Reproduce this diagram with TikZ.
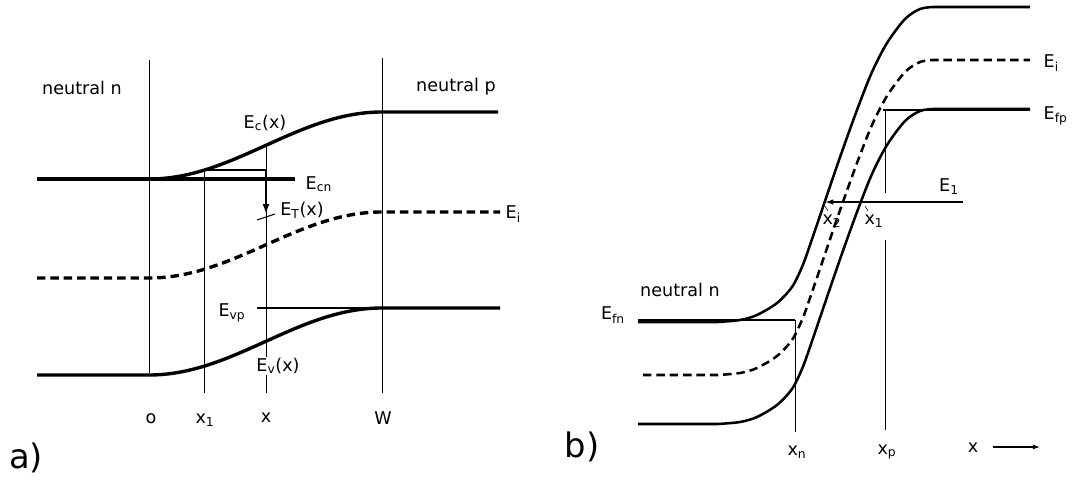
\documentclass[tikz,border=0pt]{standalone}
\usepackage{fontspec}
\setmainfont{DejaVu Sans}
\usepackage{tikz}
\usetikzlibrary{arrows.meta}

\begin{document}
\begin{tikzpicture}[x=0.025cm, y=-0.025cm,
    declare function={sa(\t)=(1-cos(180*\t))/2;},
    banda/.style={line width=2.4pt},
    bandb/.style={line width=1.8pt},
    sottile/.style={line width=0.7pt},
    tratto/.style={dash pattern=on 6pt off 3.5pt},
    lbl/.style={font=\fontsize{12.5}{15}\selectfont, inner sep=1pt},
    tag/.style={font=\fontsize{24}{28}\selectfont, inner sep=0pt}]
    \useasboundingbox (0,0) rectangle (1074,480);

    % ---------------- a) ----------------
    % Linee verticali
    \draw[sottile] (149,60) -- (149,373);
    \draw[sottile] (382,58) -- (382,393);
    \draw[sottile] (204,170) -- (204,393);
    \draw[sottile] (266,145) -- (266,393);

    % Bande E_c, E_i, E_v
    \draw[banda] (37,179) -- (295,179);
    \draw[banda, domain=149:382, samples=60] plot (\x, {179-67*sa((\x-149)/233)}) -- (498,112);
    \draw[banda, tratto] (37,278) -- (149,278)
        -- plot[domain=149:382, samples=60] (\x, {278-66*sa((\x-149)/233)}) -- (500,212);
    \draw[banda] (37,375) -- (149,375)
        -- plot[domain=149:382, samples=60] (\x, {375-67*sa((\x-149)/233)}) -- (500,308);
    \draw[line width=1pt] (257,308) -- (382,308);

    % Transizione verso il livello E_T
    \coordinate (Etop) at (266,170);
    \coordinate (Ebot) at (266,214);
    \draw[line width=1.6pt] (204,170) -- (Etop);
    \draw[line width=1.6pt, -{Latex[length=7pt, width=5pt]}] (Etop) -- (Ebot);
    \draw[sottile] (257,220) -- (275,214);

    % Etichette
    \node[lbl] (neutrna) at (82,88) {neutral n};
    \node[lbl] (neutrpa) at (456,87) {neutral p};
    \node[lbl] (Ecx) at (265,123) {E\textsubscript{c}(x)};
    \node[lbl, anchor=west] (Ecn) at (304,184) {E\textsubscript{cn}};
    \node[lbl] (ETx) at (302,210) {E\textsubscript{T}(x)};
    \node[lbl, anchor=west] (Eia) at (504,214) {E\textsubscript{i}};
    \node[lbl] (Evp) at (232,313) {E\textsubscript{vp}};
    \node[lbl, fill=white] (Evx) at (278,366) {E\textsubscript{v}(x)};
    \node[lbl] (o) at (151,419) {o};
    \node[lbl] (xuno) at (205,420) {x\textsubscript{1}};
    \node[lbl] (xa) at (266,418) {x};
    \node[lbl] (W) at (383,418) {W};
    \node[tag] (taga) at (26,458) {a)};

    % ---------------- b) ----------------
    % Linee verticali x_n, x_p
    \draw[sottile] (795,320) -- (795,432);
    \draw[sottile] (885,110) -- (885,193);
    \draw[sottile] (885,240) -- (885,430);

    % Livelli di Fermi
    \draw[bandb] (638,320) -- (795,320);
    \draw[bandb] (883,110) -- (1030,110);

    % Bande (stessa forma, traslate)
    \foreach \dy in {0,102}
        \draw[bandb, shift={(0,\dy)}] (638,322) -- plot[smooth] coordinates {(718,322) (740,320) (757,315) (777,303) (792,287) (802,267) (810,245) (838,163) (857,110) (872,72) (887,43) (905,19) (920,9) (933,7)} -- (1030,7);
    \draw[bandb, tratto, shift={(0,53)}] (643,322) -- plot[smooth] coordinates {(718,322) (740,320) (757,315) (777,303) (792,287) (802,267) (810,245) (838,163) (857,110) (872,72) (887,43) (905,19) (920,9) (933,7)} -- (1030,7);

    % Tunneling a energia E_1
    \coordinate (Euno) at (963,202);
    \coordinate (xdue) at (825,202);
    \draw[line width=1pt, -{Latex[length=6pt, width=4pt]}] (Euno) -- (xdue);
    \draw[line width=0.4pt] (825,206) -- (828,211);
    \draw[line width=0.4pt] (865,206) -- (868,211);

    % Asse x
    \coordinate (xs) at (993,447);
    \coordinate (xe) at (1040,447);
    \draw[line width=0.8pt, -{Latex[length=5pt, width=3.5pt]}] (xs) -- (xe);

    % Etichette
    \node[lbl] (neutrnb) at (680,290) {neutral n};
    \node[lbl] (Efn) at (613,315) {E\textsubscript{fn}};
    \node[lbl, anchor=west] (Eib) at (1042,63) {E\textsubscript{i}};
    \node[lbl, anchor=west] (Efp) at (1042,116) {E\textsubscript{fp}};
    \node[lbl] (Eunolbl) at (949,187) {E\textsubscript{1}};
    \node[lbl] (xduelbl) at (832,221) {x\textsubscript{2}};
    \node[lbl] (xunolbl) at (874,221) {x\textsubscript{1}};
    \node[lbl] (xn) at (797,452) {x\textsubscript{n}};
    \node[lbl] (xp) at (887,452) {x\textsubscript{p}};
    \node[lbl] (xb) at (973,448) {x};
    \node[tag] (tagb) at (582,447) {b)};
\end{tikzpicture}
\end{document}
